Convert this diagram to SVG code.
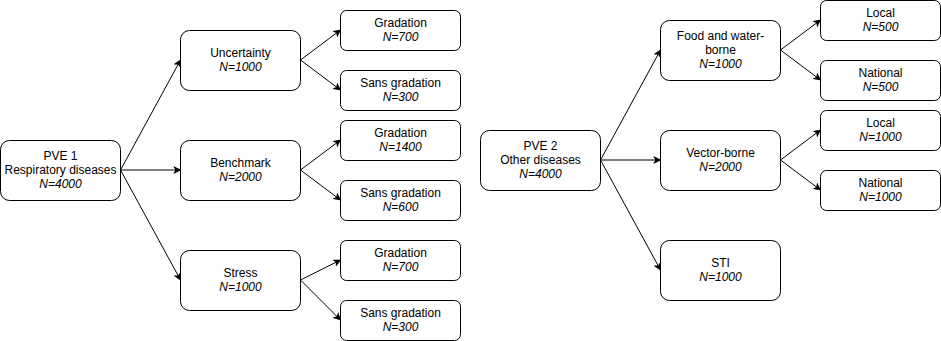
<svg xmlns="http://www.w3.org/2000/svg" width="941" height="341" viewBox="0 0 941 341">
<style>
.n rect{fill:#fff;stroke:#000;stroke-width:1}
text{font-family:"Liberation Sans",Arial,Helvetica,sans-serif;font-size:12px;fill:#000;text-anchor:middle}
.i{font-style:italic}
.c path{fill:none;stroke:#000;stroke-width:1;marker-end:url(#a)}
</style>
<defs>
<marker id="a" viewBox="0 0 10 10" refX="9" refY="5" markerWidth="8" markerHeight="8" markerUnits="userSpaceOnUse" orient="auto">
<path d="M0,0 L10,5 L0,10 L2.5,5 Z" fill="#000"/>
</marker>
</defs>
<g class="c">
<path d="M120.5,170 L180.5,60"/>
<path d="M120.5,170 L180.5,170"/>
<path d="M120.5,170 L180.5,280"/>
<path d="M300.5,60 L340.5,30"/>
<path d="M300.5,60 L340.5,90"/>
<path d="M300.5,170 L340.5,140"/>
<path d="M300.5,170 L340.5,200"/>
<path d="M300.5,280 L340.5,260"/>
<path d="M300.5,280 L340.5,320"/>
<path d="M600.5,160 L660.5,50"/>
<path d="M600.5,160 L660.5,160"/>
<path d="M600.5,160 L660.5,270"/>
<path d="M780.5,50 L820.5,20"/>
<path d="M780.5,50 L820.5,80"/>
<path d="M780.5,160 L820.5,130"/>
<path d="M780.5,160 L820.5,190"/>
</g>
<g id="pve1" class="n"><rect x="0.5" y="140.5" width="120" height="60" rx="9"/><text x="60.5" y="159.6">PVE 1</text><text x="60.5" y="174">Respiratory diseases</text><text class="i" x="60.5" y="188.4">N=4000</text></g>
<g id="uncertainty" class="n"><rect x="180.5" y="30.5" width="120" height="60" rx="9"/><text x="240.5" y="57">Uncertainty</text><text class="i" x="240.5" y="71.4">N=1000</text></g>
<g id="u-grad" class="n"><rect x="340.5" y="10.5" width="120" height="40" rx="6"/><text x="400.5" y="27">Gradation</text><text class="i" x="400.5" y="41.4">N=700</text></g>
<g id="u-sans" class="n"><rect x="340.5" y="70.5" width="120" height="40" rx="6"/><text x="400.5" y="87">Sans gradation</text><text class="i" x="400.5" y="101.4">N=300</text></g>
<g id="benchmark" class="n"><rect x="180.5" y="140.5" width="120" height="60" rx="9"/><text x="240.5" y="167">Benchmark</text><text class="i" x="240.5" y="181.4">N=2000</text></g>
<g id="b-grad" class="n"><rect x="340.5" y="120.5" width="120" height="40" rx="6"/><text x="400.5" y="137">Gradation</text><text class="i" x="400.5" y="151.4">N=1400</text></g>
<g id="b-sans" class="n"><rect x="340.5" y="180.5" width="120" height="40" rx="6"/><text x="400.5" y="197">Sans gradation</text><text class="i" x="400.5" y="211.4">N=600</text></g>
<g id="stress" class="n"><rect x="180.5" y="250.5" width="120" height="60" rx="9"/><text x="240.5" y="277">Stress</text><text class="i" x="240.5" y="291.4">N=1000</text></g>
<g id="s-grad" class="n"><rect x="340.5" y="240.5" width="120" height="40" rx="6"/><text x="400.5" y="257">Gradation</text><text class="i" x="400.5" y="271.4">N=700</text></g>
<g id="s-sans" class="n"><rect x="340.5" y="300.5" width="120" height="40" rx="6"/><text x="400.5" y="317">Sans gradation</text><text class="i" x="400.5" y="331.4">N=300</text></g>
<g id="pve2" class="n"><rect x="480.5" y="130.5" width="120" height="60" rx="9"/><text x="540.5" y="149.6">PVE 2</text><text x="540.5" y="164">Other diseases</text><text class="i" x="540.5" y="178.4">N=4000</text></g>
<g id="food" class="n"><rect x="660.5" y="20.5" width="120" height="60" rx="9"/><text x="720.5" y="39.6">Food and water-</text><text x="720.5" y="54">borne</text><text class="i" x="720.5" y="68.4">N=1000</text></g>
<g id="f-local" class="n"><rect x="820.5" y="0.5" width="120" height="40" rx="6"/><text x="880.5" y="17">Local</text><text class="i" x="880.5" y="31.4">N=500</text></g>
<g id="f-national" class="n"><rect x="820.5" y="60.5" width="120" height="40" rx="6"/><text x="880.5" y="77">National</text><text class="i" x="880.5" y="91.4">N=500</text></g>
<g id="vector" class="n"><rect x="660.5" y="130.5" width="120" height="60" rx="9"/><text x="720.5" y="157">Vector-borne</text><text class="i" x="720.5" y="171.4">N=2000</text></g>
<g id="v-local" class="n"><rect x="820.5" y="110.5" width="120" height="40" rx="6"/><text x="880.5" y="127">Local</text><text class="i" x="880.5" y="141.4">N=1000</text></g>
<g id="v-national" class="n"><rect x="820.5" y="170.5" width="120" height="40" rx="6"/><text x="880.5" y="187">National</text><text class="i" x="880.5" y="201.4">N=1000</text></g>
<g id="sti" class="n"><rect x="660.5" y="240.5" width="120" height="60" rx="9"/><text x="720.5" y="267">STI</text><text class="i" x="720.5" y="281.4">N=1000</text></g>
</svg>
